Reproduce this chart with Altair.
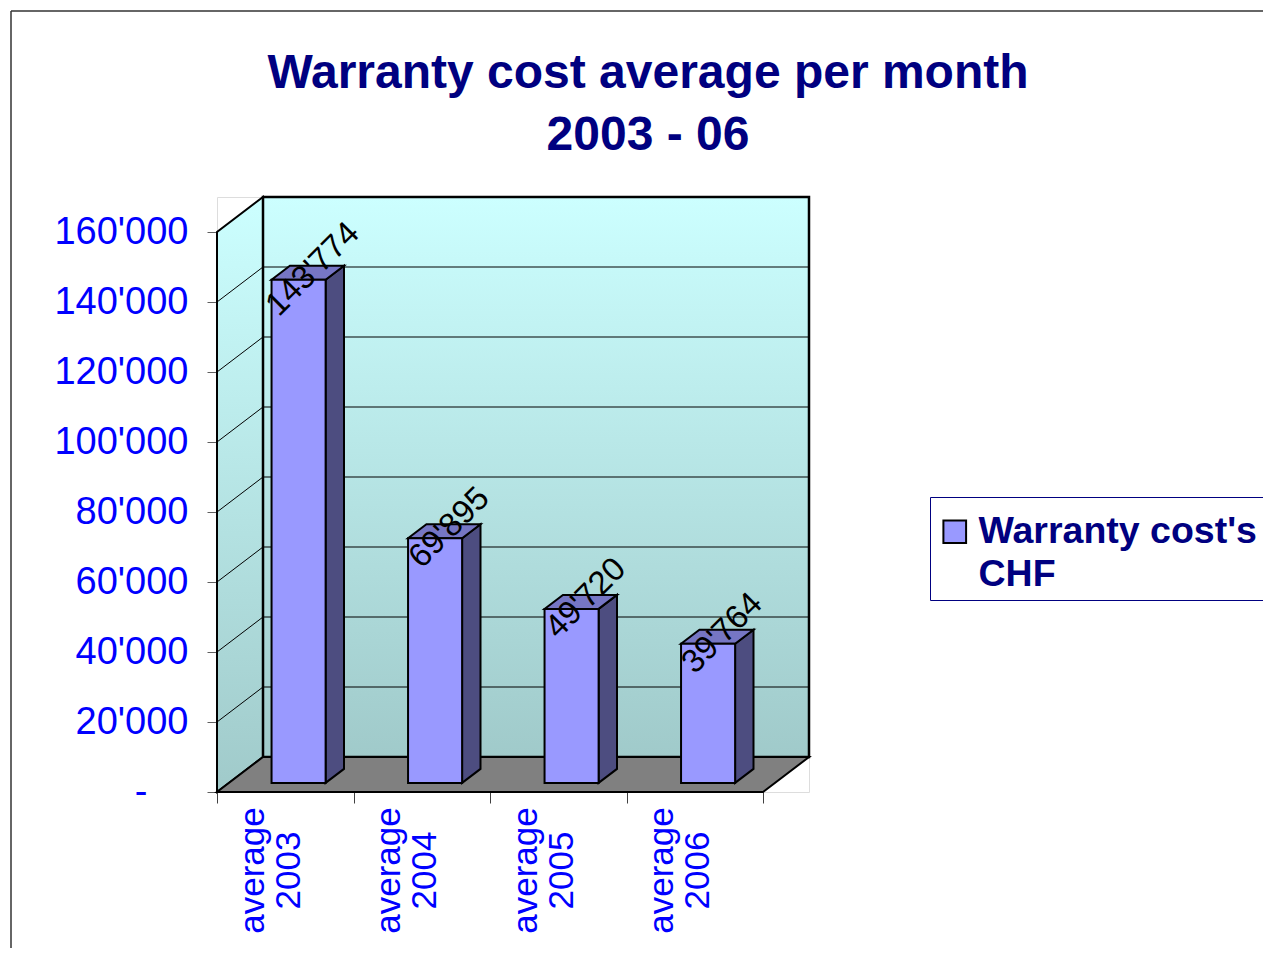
import json
import altair as alt
import pandas as pd

# ---- data -------------------------------------------------------------
categories = ["average 2003", "average 2004", "average 2005", "average 2006"]
values = [143774, 69895, 49720, 39764]
series_name = "Warranty cost's CHF"
legend_lines = ["Warranty cost's", "CHF"]
title_lines = ["Warranty cost average per month", "2003 - 06"]
y_ticks = [0, 20000, 40000, 60000, 80000, 100000, 120000, 140000, 160000]

# ---- oblique 3-D projection geometry (data units) ---------------------
KX = 46 / 136.5      # depth shift along x, in category units
KY = 10000           # depth shift along y, in value units
Y_MAX = 160000
D0, D1 = 0.26, 0.66  # bar depth range as fraction of floor depth
BW = 0.396           # bar width in category units
BC = 0.51            # bar centre inside its category slot
n = len(categories)
FONT = "Liberation Sans"

xs = alt.Scale(domain=[0, n + KX], nice=False, zero=False)
ys = alt.Scale(domain=[0, Y_MAX + KY], nice=False, zero=False)

cat_lines = [c.split(" ") for c in categories]
x_axis = alt.Axis(
    values=list(range(n + 1)),
    labelExpr=f"{json.dumps(cat_lines)}[datum.value] || ''",
    grid=False, domain=False, ticks=True, tickSize=11, tickColor="#404040",
    labelAngle=270, labelAlign="center", labelBaseline="middle",
    labelOffset=35, labelPadding=67, labelFont=FONT, labelFontSize=35,
    labelColor="#0000FF", labelLineHeight=36, labelOverlap=False,
    labelFlush=False, title=None,
)
y_axis = alt.Axis(
    values=y_ticks,
    labelExpr="datum.value == 0 ? '-' : replace(format(datum.value, ','), ',', \"'\")",
    grid=False, domain=False, ticks=True, tickSize=10, tickColor="#606060",
    labelPadding={"condition": {"test": "datum.value == 0", "value": 60}, "value": 19},
    labelFont=FONT, labelFontSize=38, labelColor="#0000FF",
    labelOverlap=False, labelFlush=False, title=None,
)
X = alt.X("x:Q", scale=xs, axis=x_axis)
Y = alt.Y("y:Q", scale=ys, axis=y_axis)

wall_grad = alt.Gradient(
    gradient="linear",
    stops=[alt.GradientStop(offset=0, color="#CCFFFF"),
           alt.GradientStop(offset=1, color="#A0CACA")],
    x1=0, x2=0, y1=0, y2=1,
)

# walls and floor
side_df = pd.DataFrame({"x": [0, KX], "y": [0, KY], "y2": [Y_MAX, Y_MAX + KY]})
back_df = pd.DataFrame({"x": [KX], "x2": [n + KX], "y": [KY], "y2": [Y_MAX + KY]})
floor_df = pd.DataFrame({"x": [0, KX, n, n + KX], "y": [0, 0, 0, KY],
                         "y2": [0, KY, KY, KY]})

side_layer = alt.Chart(side_df).mark_area(fill=wall_grad, stroke="black", strokeWidth=2).encode(
    x=X, y=Y, y2="y2")
back_layer = alt.Chart(back_df).mark_rect(fill=wall_grad, stroke="black", strokeWidth=2.5).encode(
    x=X, x2="x2", y=Y, y2="y2")
floor_layer = alt.Chart(floor_df).mark_area(fill="#808080", stroke="black", strokeWidth=2).encode(
    x=X, y=Y, y2="y2")

# gridlines on side and back walls
grid_rows = []
for v in y_ticks[1:-1]:
    grid_rows += [{"g": v, "x": 0, "y": v},
                  {"g": v, "x": KX, "y": v + KY},
                  {"g": v, "x": n + KX, "y": v + KY}]
grid_layer = alt.Chart(pd.DataFrame(grid_rows)).mark_line(color="black", strokeWidth=1).encode(
    x=X, y=Y, detail="g:N")

# bars
front_rows, side_rows, top_rows, label_rows = [], [], [], []
dk = (D1 - D0) * KX
for i, (cat, v) in enumerate(zip(categories, values)):
    c = i + BC
    xl = c - BW / 2 + D0 * KX
    xr = c + BW / 2 + D0 * KX
    vt0 = v + D0 * KY
    vt1 = v + D1 * KY
    front_rows.append({"bar": i, "x": xl, "x2": xr, "y": D0 * KY, "y2": vt0,
                       "series": series_name})
    side_rows += [{"bar": i, "x": xr, "y": D0 * KY, "y2": vt0},
                  {"bar": i, "x": xr + dk, "y": D1 * KY, "y2": vt1}]
    top_rows += [{"bar": i, "x": xl, "y": vt0, "y2": vt0},
                 {"bar": i, "x": xl + dk, "y": vt0, "y2": vt1},
                 {"bar": i, "x": xr, "y": vt0, "y2": vt1},
                 {"bar": i, "x": xr + dk, "y": vt1, "y2": vt1}]
    dm = (D0 + D1) / 2
    label_rows.append({"x": c + dm * KX, "y": v + dm * KY,
                       "label": f"{v:,}".replace(",", "'")})

bar_side = alt.Chart(pd.DataFrame(side_rows)).mark_area(
    fill="#4D4D80", stroke="black", strokeWidth=2).encode(x=X, y=Y, y2="y2", detail="bar:N")
bar_top = alt.Chart(pd.DataFrame(top_rows)).mark_area(
    fill="#7676C4", stroke="black", strokeWidth=2).encode(x=X, y=Y, y2="y2", detail="bar:N")
bar_front = alt.Chart(pd.DataFrame(front_rows)).mark_rect(
    stroke="black", strokeWidth=2, opacity=1).encode(
    x=X, x2="x2", y=Y, y2="y2",
    color=alt.Color("series:N",
                    scale=alt.Scale(domain=[series_name], range=["#9999FF"]),
                    legend=alt.Legend(
                        orient="none", legendX=713, legendY=300,
                        title=" ", titleFontSize=1, titlePadding=9,
                        labelExpr=json.dumps(legend_lines),
                        labelFont=FONT, labelFontSize=37.5, labelFontWeight="bold",
                        labelColor="#000080", labelLimit=0, labelOffset=5,
                        strokeColor="#000080", padding=6,
                        symbolType="square", symbolSize=515,
                        symbolStrokeColor="black", symbolStrokeWidth=2,
                        symbolOpacity=1)))
labels = alt.Chart(pd.DataFrame(label_rows)).mark_text(
    angle=315, align="center", baseline="middle", dx=6, dy=1,
    font=FONT, fontSize=33, color="black").encode(x=X, y=Y, text="label:N")

# outer frame (top and left edges)
one = pd.DataFrame({"a": [0]})
frame_top = alt.Chart(one).mark_rule(color="#333333", strokeWidth=1.5).encode(
    x=alt.value(-206), x2=alt.value(1060), y=alt.value(-186))
frame_left = alt.Chart(one).mark_rule(color="#333333", strokeWidth=1.5).encode(
    x=alt.value(-206), y=alt.value(-186), y2=alt.value(800))

chart = alt.layer(
    side_layer, back_layer, floor_layer, grid_layer,
    bar_side, bar_top, bar_front, labels, frame_top, frame_left,
).properties(
    width=592, height=595,
    autosize=alt.AutoSizeParams(type="none"),
    padding={"left": 209, "top": 189, "right": 454, "bottom": 156},
    title=alt.Title(text=title_lines, font=FONT, fontSize=48, fontWeight="bold",
                    color="#000080", anchor="middle", dx=135, dy=150, offset=0,
                    lineHeight=62),
).configure_view(stroke=None).configure(
    background="white", style={"guide-label": {"lineHeight": 43}})

chart.save("out.html", embed_options={"renderer": "svg", "actions": False})
